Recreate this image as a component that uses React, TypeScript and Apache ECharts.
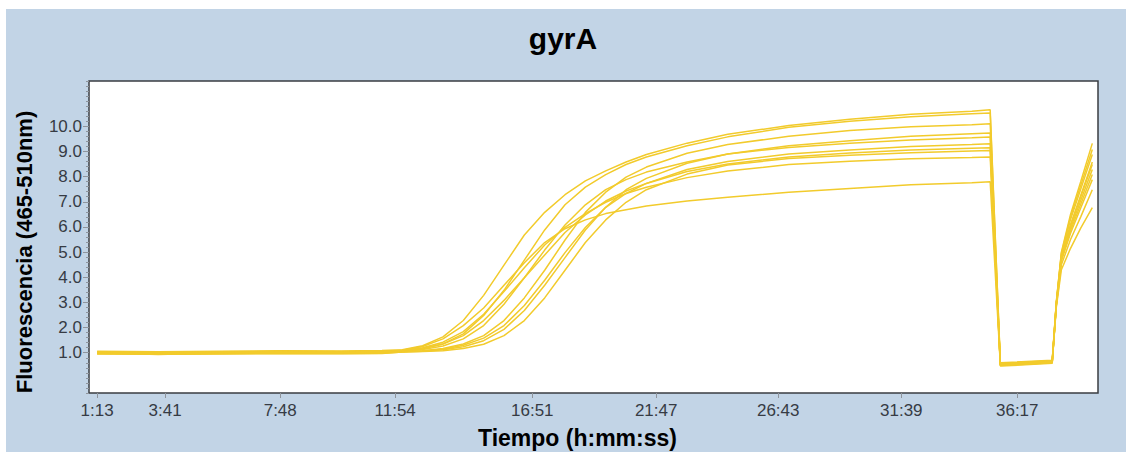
import React, { useEffect, useRef } from "react";
import * as echarts from "echarts";

// x positions are in acquisition (cycle) units; tick labels are elapsed times
const xTickPos = [1, 4.34, 10, 15.65, 22.39, 28.48, 34.48, 40.53, 46.23];
const xTickLabels = ["1:13", "3:41", "7:48", "11:54", "16:51", "21:47", "26:43", "31:39", "36:17"];
const yLabelValues = [1, 2, 3, 4, 5, 6, 7, 8, 9, 10];

const ampCycles = [1, 4, 7, 10, 13, 15, 16, 17, 18, 19, 20, 21, 22, 23, 24, 25, 26, 27, 28, 30, 32, 35, 38, 41, 44, 44.9];
const tailCycles = [45.4, 47.95, 48.15, 48.4, 48.85, 49.35, 49.92];

const ampA = [1.06, 1.04, 1.06, 1.08, 1.07, 1.09, 1.12, 1.28, 1.63, 2.28, 3.28, 4.48, 5.68, 6.58, 7.28, 7.83, 8.23, 8.58, 8.88, 9.33, 9.68, 10.03, 10.28, 10.48, 10.6, 10.66];
const ampB = [1.03, 1.02, 1.03, 1.05, 1.04, 1.06, 1.08, 1.16, 1.35, 1.75, 2.48, 3.48, 4.68, 5.88, 6.88, 7.58, 8.08, 8.48, 8.78, 9.23, 9.58, 9.96, 10.2, 10.38, 10.5, 10.53];
const ampC = [0.99, 0.98, 0.99, 1.01, 1.0, 1.01, 1.05, 1.08, 1.17, 1.35, 1.68, 2.28, 3.18, 4.28, 5.48, 6.58, 7.38, 7.98, 8.38, 8.93, 9.28, 9.6, 9.83, 9.98, 10.06, 10.1];
const ampD = [0.96, 0.95, 0.96, 0.98, 0.97, 0.98, 1.03, 1.06, 1.12, 1.24, 1.48, 1.93, 2.68, 3.68, 4.78, 5.88, 6.78, 7.48, 7.93, 8.53, 8.9, 9.23, 9.43, 9.6, 9.7, 9.73];
const ampE = [1.02, 1.0, 1.01, 1.04, 1.03, 1.04, 1.07, 1.13, 1.27, 1.55, 2.08, 2.93, 3.98, 5.08, 6.08, 6.88, 7.48, 7.88, 8.18, 8.58, 8.9, 9.16, 9.33, 9.46, 9.54, 9.57];
const ampF = [0.98, 0.97, 0.98, 1.0, 0.99, 1.0, 1.05, 1.08, 1.14, 1.3, 1.58, 2.08, 2.88, 3.88, 4.98, 5.98, 6.78, 7.33, 7.73, 8.28, 8.6, 8.9, 9.06, 9.2, 9.28, 9.31];
const ampG = [1.04, 1.02, 1.04, 1.06, 1.05, 1.07, 1.09, 1.18, 1.35, 1.68, 2.28, 3.08, 3.98, 4.88, 5.78, 6.48, 7.03, 7.43, 7.73, 8.2, 8.5, 8.78, 8.94, 9.06, 9.13, 9.15];
const ampH = [0.95, 0.94, 0.95, 0.97, 0.96, 0.97, 1.03, 1.05, 1.08, 1.17, 1.34, 1.68, 2.28, 3.18, 4.28, 5.38, 6.28, 6.98, 7.48, 8.1, 8.46, 8.72, 8.85, 8.95, 9.02, 9.04];
const ampI = [1.01, 0.99, 1.01, 1.03, 1.02, 1.04, 1.1, 1.2, 1.42, 1.84, 2.53, 3.43, 4.38, 5.28, 5.98, 6.53, 6.98, 7.33, 7.58, 7.96, 8.22, 8.48, 8.61, 8.71, 8.76, 8.78];
const ampJ = [1.0, 0.93, 0.99, 1.02, 1.01, 1.03, 1.1, 1.25, 1.55, 2.08, 2.78, 3.68, 4.58, 5.38, 5.93, 6.28, 6.53, 6.68, 6.83, 7.03, 7.18, 7.38, 7.53, 7.68, 7.76, 7.8];

const tailA = [0.6, 0.7, 3.0, 5.0, 6.5, 7.8, 9.32];
const tailB = [0.57, 0.67, 3.0, 4.95, 6.4, 7.65, 9.08];
const tailC = [0.52, 0.63, 2.95, 4.9, 6.3, 7.5, 8.88];
const tailD = [0.49, 0.6, 2.95, 4.85, 6.1, 7.25, 8.58];
const tailE = [0.55, 0.66, 2.95, 4.8, 6.05, 7.2, 8.48];
const tailF = [0.5, 0.61, 2.9, 4.75, 5.95, 7.05, 8.28];
const tailG = [0.58, 0.68, 2.9, 4.7, 5.85, 6.9, 8.08];
const tailH = [0.47, 0.58, 2.9, 4.65, 5.75, 6.75, 7.88];
const tailI = [0.54, 0.65, 2.85, 4.5, 5.5, 6.4, 7.48];
const tailJ = [0.51, 0.62, 2.8, 4.3, 5.15, 5.95, 6.77];

const curves = [
  { name: "A", amp: ampA, tail: tailA },
  { name: "B", amp: ampB, tail: tailB },
  { name: "C", amp: ampC, tail: tailC },
  { name: "D", amp: ampD, tail: tailD },
  { name: "E", amp: ampE, tail: tailE },
  { name: "F", amp: ampF, tail: tailF },
  { name: "G", amp: ampG, tail: tailG },
  { name: "H", amp: ampH, tail: tailH },
  { name: "I", amp: ampI, tail: tailI },
  { name: "J", amp: ampJ, tail: tailJ },
];

const LINE = "#f2cb2c";
const LABEL_FONT = "'Liberation Sans', Arial, sans-serif";
const BOLD_FONT = "'Liberation Sans', Arial, sans-serif";

function buildOption() {
  const series = curves.map((c) => ({
    type: "line",
    name: c.name,
    showSymbol: false,
    silent: true,
    xAxisIndex: 0,
    yAxisIndex: 0,
    lineStyle: { color: LINE, width: 1.5 },
    emphasis: { disabled: true },
    data: [
      ...ampCycles.map((x, i) => [x, c.amp[i]]),
      ...tailCycles.map((x, i) => [x, c.tail[i]]),
    ],
  }));

  return {
    animation: false,
    backgroundColor: "transparent",
    title: {
      text: "gyrA",
      left: "center",
      top: 23,
      padding: 0,
      textStyle: { fontFamily: BOLD_FONT, fontWeight: "bold", fontSize: 30, color: "#000" },
    },
    grid: {
      left: 89,
      top: 81,
      right: 28,
      bottom: 59,
      show: true,
      backgroundColor: "#ffffff",
      borderColor: "#3a3d42",
      borderWidth: 1.5,
    },
    xAxis: {
      type: "value",
      min: 0.6,
      max: 50.2,
      name: "Tiempo (h:mm:ss)",
      nameLocation: "middle",
      nameGap: 33,
      nameTextStyle: {
        fontFamily: BOLD_FONT,
        fontWeight: "bold",
        fontSize: 23,
        color: "#000",
        padding: [0, 32, 0, 0],
      },
      axisLine: { show: false, onZero: false },
      splitLine: { show: false },
      axisTick: {
        show: true,
        customValues: xTickPos,
        length: 5,
        lineStyle: { color: "#8e949c" },
      },
      axisLabel: {
        customValues: xTickPos,
        margin: 9,
        fontFamily: LABEL_FONT,
        fontSize: 17,
        color: "#363b44",
        formatter: (v: number) => {
          const i = xTickPos.findIndex((p) => Math.abs(p - v) < 1e-6);
          return i >= 0 ? xTickLabels[i] : "";
        },
      },
    },
    yAxis: [
      {
        type: "value",
        min: -0.6,
        max: 11.8,
        interval: 0.2,
        position: "left",
        name: "Fluorescencia (465-510nm)",
        nameLocation: "middle",
        nameGap: 54,
        nameTextStyle: {
          fontFamily: BOLD_FONT,
          fontWeight: "bold",
          fontSize: 22,
          color: "#000",
          padding: [0, 30, 0, 0],
        },
        axisLine: { show: false, onZero: false },
        splitLine: { show: false },
        axisTick: { show: true, length: 3, lineStyle: { color: "#8e949c" } },
        axisLabel: {
          margin: 7,
          fontFamily: LABEL_FONT,
          fontSize: 17,
          color: "#363b44",
          formatter: (v: number) => {
            const r = Math.round(v * 10) / 10;
            return yLabelValues.some((t) => Math.abs(t - r) < 1e-6) ? r.toFixed(1) : "";
          },
        },
      },
      {
        type: "value",
        min: -0.6,
        max: 11.8,
        position: "left",
        offset: 0,
        axisLine: { show: false, onZero: false },
        splitLine: { show: false },
        axisTick: { show: true, customValues: yLabelValues, length: 6, lineStyle: { color: "#8e949c" } },
        axisLabel: { show: false },
      },
    ],
    series,
  };
}

export default function App() {
  const ref = useRef<HTMLDivElement>(null);
  useEffect(() => {
    if (!ref.current) return;
    const chart = echarts.init(ref.current, null, { renderer: "svg" });
    chart.setOption(buildOption() as any);
    return () => chart.dispose();
  }, []);
  return (
    <div style={{ position: "fixed", left: 0, top: 0, width: 1126, height: 454, background: "#ffffff" }}>
      <div style={{ position: "absolute", left: 6, top: 9, right: 0, bottom: 2, background: "#c2d4e6" }} />
      <div ref={ref} style={{ position: "absolute", left: 0, top: 0, width: 1126, height: 454 }} />
    </div>
  );
}
